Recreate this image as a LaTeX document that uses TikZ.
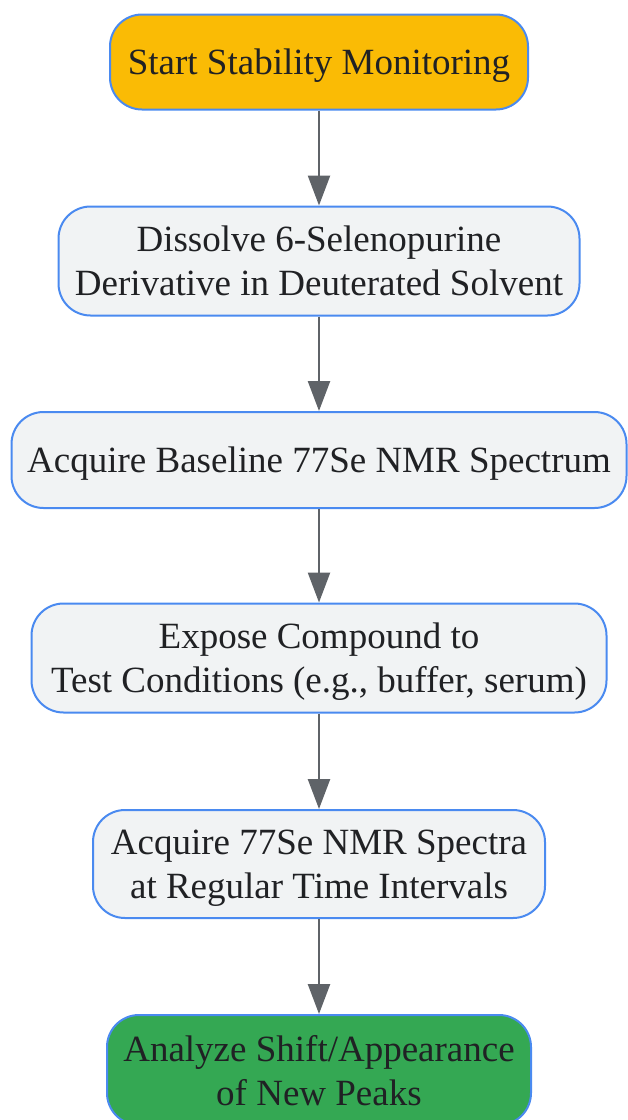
\documentclass[tikz,border=0pt]{standalone}
\usepackage{fontspec}
\setmainfont{Liberation Serif}
\usetikzlibrary{arrows.meta}

\definecolor{edgeblue}{HTML}{4A8AF0}
\definecolor{boxgray}{HTML}{F1F3F4}
\definecolor{startorange}{HTML}{FABB05}
\definecolor{endgreen}{HTML}{34A853}
\definecolor{arrowgray}{HTML}{5F6368}
\definecolor{txt}{HTML}{202124}

\tikzset{
	stepbox/.style={draw=edgeblue, line width=2pt, fill=boxgray, rounded corners=32pt,
		align=center, text=txt, font=\fontsize{37}{44}\selectfont, inner sep=0pt, text depth=0pt},
	flow/.style={draw=arrowgray, line width=2.5pt, -{Triangle[width=22pt,length=30pt]}}
}

\begin{document}
\begin{tikzpicture}[x=1pt, y=-1pt]
	\useasboundingbox (0,0) rectangle (627,1120);

	\node[stepbox, fill=startorange, minimum width=418pt, minimum height=95pt] (start) at (319,62) {Start Stability Monitoring};
	\node[stepbox, minimum width=521pt, minimum height=109pt] (dissolve) at (319,261) {Dissolve 6-Selenopurine\\Derivative in Deuterated Solvent};
	\node[stepbox, minimum width=615pt, minimum height=96pt] (baseline) at (319,460) {Acquire Baseline 77Se NMR Spectrum};
	\node[stepbox, minimum width=575pt, minimum height=109pt] (expose) at (319,658) {Expose Compound to\\Test Conditions (e.g., buffer, serum)};
	\node[stepbox, minimum width=452pt, minimum height=108pt] (spectra) at (319,864) {Acquire 77Se NMR Spectra\\at Regular Time Intervals};
	\node[stepbox, fill=endgreen, minimum width=424pt, minimum height=110pt] (analyze) at (319,1070) {Analyze Shift/Appearance\\of New Peaks};

	% connectors
	\foreach \a / \b in {start/dissolve, dissolve/baseline, baseline/expose, expose/spectra, spectra/analyze}{
		\draw[flow] (\a) -- (\b);}

\end{tikzpicture}
\end{document}
